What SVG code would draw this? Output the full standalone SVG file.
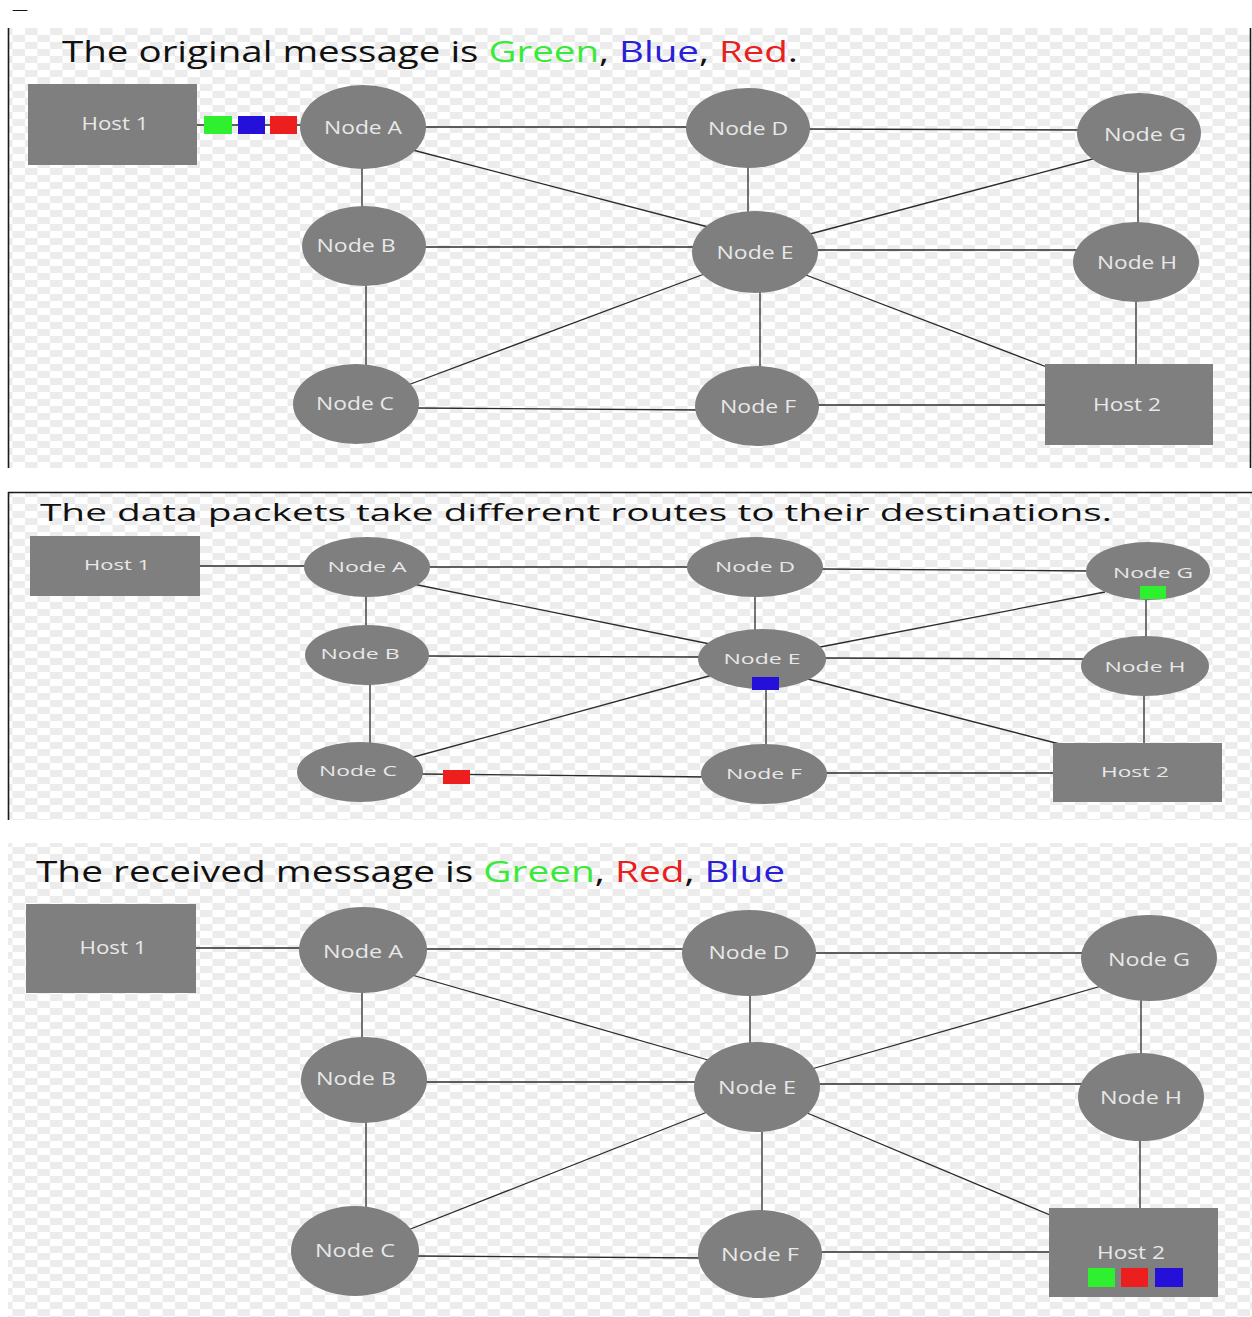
<svg xmlns="http://www.w3.org/2000/svg" width="1252" height="1317" viewBox="0 0 1252 1317">
<defs>
<pattern id="chk" width="25" height="14" patternUnits="userSpaceOnUse">
<rect width="25" height="14" fill="#ffffff"/>
<rect x="0" y="0" width="12.5" height="7" fill="#ececec"/>
<rect x="12.5" y="7" width="12.5" height="7" fill="#ececec"/>
</pattern>
</defs>
<style>
.node{fill:#7f7f7f}
.lbl{font-family:"Open Sans","Noto Sans",sans-serif;fill:#e8e8e8;text-anchor:middle}
.p1{font-size:18px}
.p2{font-size:14px}
.p3{font-size:19px}
.title{font-family:"Open Sans","Noto Sans",sans-serif;fill:#111}
.edges line{stroke:#2b2b2b;stroke-width:1.3}
.frame{stroke:#1a1a1a;stroke-width:1.6}
.g{fill:#2ef02e}.b{fill:#2410d8}.r{fill:#ec1e1e}
.tg{fill:#3aea3a}.tb{fill:#2a1fd6}.tr{fill:#e82020}
</style>
<rect width="1252" height="1317" fill="#ffffff"/>
<text x="12" y="13" font-family="Open Sans, sans-serif" font-size="10" fill="#111" textLength="16" lengthAdjust="spacingAndGlyphs">—</text>
<rect x="8" y="28" width="1242" height="440" fill="url(#chk)"/>
<rect x="8" y="492" width="1244" height="328" fill="url(#chk)"/>
<rect x="8" y="843" width="1244" height="474" fill="url(#chk)"/>
<line class="frame" x1="8.5" y1="28" x2="8.5" y2="468"/>
<line class="frame" x1="1250.5" y1="28" x2="1250.5" y2="468"/>
<line class="frame" x1="8" y1="492.5" x2="1252" y2="492.5"/>
<line class="frame" x1="8.5" y1="492" x2="8.5" y2="820"/>

<!-- Panel 1 -->
<text class="title" x="62" y="62" font-size="29" textLength="736" lengthAdjust="spacingAndGlyphs">The original message is <tspan class="tg">Green</tspan>, <tspan class="tb">Blue</tspan>, <tspan class="tr">Red</tspan>.</text>
<g class="edges" id="edges1">
<line x1="190" y1="125" x2="310" y2="125"/>
<line x1="420" y1="127" x2="690" y2="127"/>
<line x1="800" y1="129" x2="1085" y2="130"/>
<line x1="362" y1="165" x2="362" y2="210"/>
<line x1="405" y1="148" x2="712" y2="228"/>
<line x1="748" y1="165" x2="748" y2="218"/>
<line x1="1100" y1="157" x2="810" y2="234"/>
<line x1="1138" y1="170" x2="1138" y2="226"/>
<line x1="420" y1="247" x2="697" y2="247"/>
<line x1="812" y1="250" x2="1080" y2="250"/>
<line x1="366" y1="283" x2="366" y2="368"/>
<line x1="408" y1="385" x2="715" y2="270"/>
<line x1="760" y1="285" x2="760" y2="380"/>
<line x1="798" y1="272" x2="1065" y2="374"/>
<line x1="1136" y1="298" x2="1136" y2="368"/>
<line x1="415" y1="408" x2="702" y2="410"/>
<line x1="815" y1="405" x2="1052" y2="405"/>
</g>
<g id="p1-host1"><rect class="node" x="28" y="84" width="169" height="81"/><text class="lbl p1" x="115" y="130" textLength="67" lengthAdjust="spacingAndGlyphs">Host 1</text></g>
<g id="p1-packets"><rect class="g" x="204" y="116" width="28" height="18"/><rect class="b" x="238" y="116" width="27" height="18"/><rect class="r" x="270" y="116" width="27" height="18"/></g>
<g id="p1-nodeA"><ellipse class="node" cx="363" cy="127" rx="63" ry="42"/><text class="lbl p1" x="363" y="134" textLength="78" lengthAdjust="spacingAndGlyphs">Node A</text></g>
<g id="p1-nodeD"><ellipse class="node" cx="748" cy="128" rx="62" ry="40"/><text class="lbl p1" x="748" y="135" textLength="80" lengthAdjust="spacingAndGlyphs">Node D</text></g>
<g id="p1-nodeG"><ellipse class="node" cx="1139" cy="133" rx="62" ry="40"/><text class="lbl p1" x="1145" y="141" textLength="82" lengthAdjust="spacingAndGlyphs">Node G</text></g>
<g id="p1-nodeB"><ellipse class="node" cx="364" cy="246" rx="62" ry="40"/><text class="lbl p1" x="356" y="252" textLength="79" lengthAdjust="spacingAndGlyphs">Node B</text></g>
<g id="p1-nodeE"><ellipse class="node" cx="755" cy="252" rx="63" ry="41"/><text class="lbl p1" x="755" y="259" textLength="77" lengthAdjust="spacingAndGlyphs">Node E</text></g>
<g id="p1-nodeH"><ellipse class="node" cx="1136" cy="262" rx="63" ry="40"/><text class="lbl p1" x="1137" y="269" textLength="80" lengthAdjust="spacingAndGlyphs">Node H</text></g>
<g id="p1-nodeC"><ellipse class="node" cx="356" cy="404" rx="63" ry="40"/><text class="lbl p1" x="355" y="410" textLength="78" lengthAdjust="spacingAndGlyphs">Node C</text></g>
<g id="p1-nodeF"><ellipse class="node" cx="757" cy="406" rx="62" ry="40"/><text class="lbl p1" x="758" y="413" textLength="76" lengthAdjust="spacingAndGlyphs">Node F</text></g>
<g id="p1-host2"><rect class="node" x="1045" y="364" width="168" height="81"/><text class="lbl p1" x="1127" y="411" textLength="68" lengthAdjust="spacingAndGlyphs">Host 2</text></g>

<!-- Panel 2 -->
<text class="title" x="40" y="521" font-size="23" textLength="1072" lengthAdjust="spacingAndGlyphs">The data packets take different routes to their destinations.</text>
<g class="edges" id="edges2">
<line x1="192" y1="566" x2="312" y2="566"/>
<line x1="420" y1="567" x2="690" y2="567"/>
<line x1="820" y1="569" x2="1090" y2="571"/>
<line x1="366" y1="595" x2="366" y2="628"/>
<line x1="408" y1="583" x2="715" y2="645"/>
<line x1="755" y1="595" x2="755" y2="633"/>
<line x1="1105" y1="592" x2="815" y2="648"/>
<line x1="1146" y1="598" x2="1146" y2="640"/>
<line x1="428" y1="656" x2="700" y2="657"/>
<line x1="825" y1="658" x2="1085" y2="659"/>
<line x1="370" y1="683" x2="370" y2="745"/>
<line x1="410" y1="758" x2="720" y2="673"/>
<line x1="766" y1="690" x2="766" y2="755"/>
<line x1="800" y1="677" x2="1075" y2="748"/>
<line x1="1144" y1="694" x2="1144" y2="745"/>
<line x1="420" y1="774" x2="710" y2="777"/>
<line x1="820" y1="773" x2="1060" y2="773"/>
</g>
<g id="p2-host1"><rect class="node" x="30" y="536" width="170" height="60"/><text class="lbl p2" x="117" y="570" textLength="66" lengthAdjust="spacingAndGlyphs">Host 1</text></g>
<g id="p2-nodeA"><ellipse class="node" cx="367" cy="567" rx="63" ry="30"/><text class="lbl p2" x="367" y="572" textLength="79" lengthAdjust="spacingAndGlyphs">Node A</text></g>
<g id="p2-nodeD"><ellipse class="node" cx="755" cy="567" rx="68" ry="30"/><text class="lbl p2" x="755" y="572" textLength="80" lengthAdjust="spacingAndGlyphs">Node D</text></g>
<g id="p2-nodeG"><ellipse class="node" cx="1148" cy="571" rx="62" ry="29"/><text class="lbl p2" x="1153" y="578" textLength="80" lengthAdjust="spacingAndGlyphs">Node G</text></g>
<g id="p2-nodeB"><ellipse class="node" cx="367" cy="655" rx="62" ry="30"/><text class="lbl p2" x="360" y="659" textLength="79" lengthAdjust="spacingAndGlyphs">Node B</text></g>
<g id="p2-nodeE"><ellipse class="node" cx="762" cy="659" rx="64" ry="30"/><text class="lbl p2" x="762" y="664" textLength="77" lengthAdjust="spacingAndGlyphs">Node E</text></g>
<g id="p2-nodeH"><ellipse class="node" cx="1145" cy="666" rx="64" ry="30"/><text class="lbl p2" x="1145" y="672" textLength="81" lengthAdjust="spacingAndGlyphs">Node H</text></g>
<g id="p2-nodeC"><ellipse class="node" cx="360" cy="772" rx="63" ry="30"/><text class="lbl p2" x="358" y="776" textLength="78" lengthAdjust="spacingAndGlyphs">Node C</text></g>
<g id="p2-nodeF"><ellipse class="node" cx="764" cy="774" rx="63" ry="30"/><text class="lbl p2" x="764" y="779" textLength="76" lengthAdjust="spacingAndGlyphs">Node F</text></g>
<g id="p2-host2"><rect class="node" x="1053" y="743" width="169" height="59"/><text class="lbl p2" x="1135" y="777" textLength="68" lengthAdjust="spacingAndGlyphs">Host 2</text></g>
<g id="p2-packets"><rect class="g" x="1140" y="586" width="26" height="13"/><rect class="b" x="752" y="677" width="27" height="13"/><rect class="r" x="443" y="770" width="27" height="14"/></g>

<!-- Panel 3 -->
<text class="title" x="36" y="882" font-size="29" textLength="749" lengthAdjust="spacingAndGlyphs">The received message is <tspan class="tg">Green</tspan>, <tspan class="tr">Red</tspan>, <tspan class="tb">Blue</tspan></text>
<g class="edges" id="edges3">
<line x1="190" y1="948" x2="310" y2="948"/>
<line x1="420" y1="949" x2="690" y2="949"/>
<line x1="810" y1="953" x2="1090" y2="953"/>
<line x1="362" y1="990" x2="362" y2="1040"/>
<line x1="405" y1="973" x2="715" y2="1062"/>
<line x1="750" y1="990" x2="750" y2="1045"/>
<line x1="1105" y1="985" x2="808" y2="1070"/>
<line x1="1141" y1="995" x2="1141" y2="1060"/>
<line x1="425" y1="1082" x2="697" y2="1082"/>
<line x1="815" y1="1084" x2="1085" y2="1084"/>
<line x1="366" y1="1120" x2="366" y2="1215"/>
<line x1="408" y1="1230" x2="720" y2="1107"/>
<line x1="762" y1="1125" x2="762" y2="1225"/>
<line x1="800" y1="1110" x2="1062" y2="1220"/>
<line x1="1140" y1="1137" x2="1140" y2="1215"/>
<line x1="415" y1="1256" x2="705" y2="1258"/>
<line x1="815" y1="1252" x2="1058" y2="1252"/>
</g>
<g id="p3-host1"><rect class="node" x="26" y="904" width="170" height="89"/><text class="lbl p3" x="113" y="954" textLength="67" lengthAdjust="spacingAndGlyphs">Host 1</text></g>
<g id="p3-nodeA"><ellipse class="node" cx="363" cy="950" rx="64" ry="43"/><text class="lbl p3" x="363" y="958" textLength="80" lengthAdjust="spacingAndGlyphs">Node A</text></g>
<g id="p3-nodeD"><ellipse class="node" cx="749" cy="953" rx="67" ry="43"/><text class="lbl p3" x="749" y="959" textLength="81" lengthAdjust="spacingAndGlyphs">Node D</text></g>
<g id="p3-nodeG"><ellipse class="node" cx="1149" cy="958" rx="68" ry="43"/><text class="lbl p3" x="1149" y="966" textLength="82" lengthAdjust="spacingAndGlyphs">Node G</text></g>
<g id="p3-nodeB"><ellipse class="node" cx="364" cy="1080" rx="63" ry="43"/><text class="lbl p3" x="356" y="1085" textLength="80" lengthAdjust="spacingAndGlyphs">Node B</text></g>
<g id="p3-nodeE"><ellipse class="node" cx="757" cy="1087" rx="63" ry="45"/><text class="lbl p3" x="757" y="1094" textLength="78" lengthAdjust="spacingAndGlyphs">Node E</text></g>
<g id="p3-nodeH"><ellipse class="node" cx="1141" cy="1097" rx="63" ry="44"/><text class="lbl p3" x="1141" y="1104" textLength="82" lengthAdjust="spacingAndGlyphs">Node H</text></g>
<g id="p3-nodeC"><ellipse class="node" cx="355" cy="1251" rx="64" ry="45"/><text class="lbl p3" x="355" y="1257" textLength="80" lengthAdjust="spacingAndGlyphs">Node C</text></g>
<g id="p3-nodeF"><ellipse class="node" cx="760" cy="1254" rx="62" ry="44"/><text class="lbl p3" x="760" y="1261" textLength="78" lengthAdjust="spacingAndGlyphs">Node F</text></g>
<g id="p3-host2"><rect class="node" x="1049" y="1208" width="169" height="89"/><text class="lbl p3" x="1131" y="1259" textLength="68" lengthAdjust="spacingAndGlyphs">Host 2</text>
<rect class="g" x="1088" y="1268" width="27" height="19"/><rect class="r" x="1121" y="1268" width="27" height="19"/><rect class="b" x="1155" y="1268" width="28" height="19"/></g>
</svg>
